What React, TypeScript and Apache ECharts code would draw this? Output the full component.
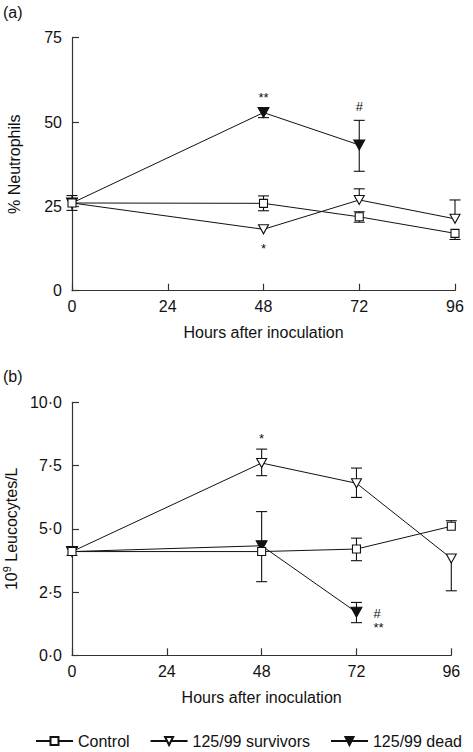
import React, { useEffect, useRef } from "react";
import * as echarts from "echarts";

const hours = [0, 48, 72, 96];
const hoursDead = [0, 48, 72];
const xTicks = [0, 24, 48, 72, 96];

// Panel (a): % Neutrophils
const neutControl = [26, 25.9, 21.9, 17];
const neutSurvivors = [26, 18.2, 26.9, 21.3];
const neutDead = [26, 52.8, 43.2];
// error bars [plus, minus]
const neutControlErr = [[2.2, 2.2], [2.2, 2.2], [1.5, 1.6], [0, 1.8]];
const neutSurvivorsErr = [[0, 0], [0, 0], [3.3, 0], [5.6, 0]];
const neutDeadErr = [[0, 0], [1.3, 1.5], [7.3, 7.8]];
const neutNotes = [
  { x: 48, y: 57.4, text: "**" },
  { x: 72, y: 54.6, text: "#" },
  { x: 48, y: 12.6, text: "*" },
];

// Panel (b): 10^9 Leucocytes/L
const leucControl = [4.1, 4.1, 4.2, 5.1];
const leucSurvivors = [4.1, 7.6, 6.8, 3.83];
const leucDead = [4.1, 4.33, 1.7];
const leucControlErr = [[0.15, 0.15], [0, 0], [0.43, 0.46], [0.22, 0]];
const leucSurvivorsErr = [[0, 0], [0.55, 0.5], [0.6, 0.56], [0, 1.28]];
const leucDeadErr = [[0, 0], [1.35, 1.42], [0.39, 0.41]];
const leucNotes = [
  { x: 48, y: 8.55, text: "*" },
  { x: 77.2, y: 1.65, text: "#" },
  { x: 77.6, y: 1.1, text: "**" },
];

const seriesNames = ["Control", "125/99 survivors", "125/99 dead"];

const FONT = "'Liberation Sans', Arial, Helvetica, sans-serif";
const BLACK = "#111";
const FS = 16;

const pairs = (xs: number[], ys: number[]) => xs.map((x, i) => [x, ys[i]]);
const errData = (xs: number[], ys: number[], e: number[][]) =>
  xs.map((x, i) => [x, ys[i], e[i][0], e[i][1]]);

function errorSeries(xs: number[], ys: number[], e: number[][], idx: number) {
  return {
    type: "custom",
    xAxisIndex: idx,
    yAxisIndex: idx,
    z: 1,
    silent: true,
    data: errData(xs, ys, e),
    encode: { x: 0, y: 1 },
    renderItem: (params: any, api: any) => {
      const x = api.value(0);
      const y = api.value(1);
      const up = api.value(2);
      const dn = api.value(3);
      const c = api.coord([x, y]);
      const w = 5.5;
      const style = { stroke: BLACK, lineWidth: 1.1, fill: null };
      const children: any[] = [];
      if (up > 0) {
        const t = api.coord([x, y + up]);
        children.push({ type: "line", shape: { x1: c[0], y1: c[1], x2: c[0], y2: t[1] }, style });
        children.push({ type: "line", shape: { x1: c[0] - w, y1: t[1], x2: c[0] + w, y2: t[1] }, style });
      }
      if (dn > 0) {
        const b = api.coord([x, y - dn]);
        children.push({ type: "line", shape: { x1: c[0], y1: c[1], x2: c[0], y2: b[1] }, style });
        children.push({ type: "line", shape: { x1: c[0] - w, y1: b[1], x2: c[0] + w, y2: b[1] }, style });
      }
      return { type: "group", children };
    },
  };
}

function noteSeries(notes: { x: number; y: number; text: string }[], idx: number, size: number) {
  return {
    type: "custom",
    xAxisIndex: idx,
    yAxisIndex: idx,
    z: 5,
    silent: true,
    data: notes.map((n) => [n.x, n.y]),
    encode: { x: 0, y: 1 },
    renderItem: (params: any, api: any) => {
      const c = api.coord([api.value(0), api.value(1)]);
      return {
        type: "text",
        x: c[0],
        y: c[1],
        style: {
          text: notes[params.dataIndex].text,
          fill: BLACK,
          font: `${size}px ${FONT}`,
          align: "center",
          verticalAlign: "middle",
        },
      };
    },
  };
}

function lineSeries(name: string, data: number[][], idx: number, kind: number) {
  const base: any = {
    name,
    type: "line",
    xAxisIndex: idx,
    yAxisIndex: idx,
    data,
    z: 3,
    lineStyle: { color: BLACK, width: 1 },
    emphasis: { disabled: true },
  };
  if (kind === 0) {
    base.symbol = "rect";
    base.symbolSize = 8;
    base.z = 4;
    base.itemStyle = { color: "#fff", borderColor: BLACK, borderWidth: 1.1 };
  } else if (kind === 1) {
    base.symbol = "triangle";
    base.symbolRotate = 180;
    base.symbolSize = [10, 9];
    base.itemStyle = { color: "#fff", borderColor: BLACK, borderWidth: 1.1 };
  } else {
    base.symbol = "triangle";
    base.symbolRotate = 180;
    base.symbolSize = [11, 10];
    base.z = 2;
    base.itemStyle = { color: BLACK, borderColor: BLACK, borderWidth: 1 };
  }
  return base;
}

const axisCommon = {
  axisLine: { lineStyle: { color: "#333", width: 1.2 } },
  axisTick: { inside: true, length: 7, lineStyle: { color: "#333", width: 1.2 } },
  splitLine: { show: false },
};

export default function App() {
  const ref = useRef<HTMLDivElement>(null);
  useEffect(() => {
    if (!ref.current) return;
    const chart = echarts.init(ref.current, null, { renderer: "svg" });
    const xAxis = (idx: number) => ({
      type: "value",
      gridIndex: idx,
      min: xTicks[0],
      max: xTicks[xTicks.length - 1],
      interval: 24,
      ...axisCommon,
      axisLabel: { color: BLACK, fontSize: FS, fontFamily: FONT, margin: 8 },
      name: "Hours after inoculation",
      nameLocation: "middle",
      nameGap: 34,
      nameTextStyle: { color: BLACK, fontSize: FS, fontFamily: FONT },
    });
    chart.setOption({
      animation: false,
      textStyle: { fontFamily: FONT },
      grid: [
        { left: 72, top: 37.7, width: 383, height: 253, containLabel: false, outerBoundsMode: "none" },
        { left: 72, top: 402.3, width: 379.3, height: 253, containLabel: false, outerBoundsMode: "none" },
      ],
      xAxis: [xAxis(0), xAxis(1)],
      yAxis: [
        {
          type: "value",
          gridIndex: 0,
          min: 0,
          max: 75,
          interval: 25,
          ...axisCommon,
          axisLabel: { color: BLACK, fontSize: FS, fontFamily: FONT, margin: 10 },
          name: "% Neutrophils",
          nameLocation: "middle",
          nameGap: 50,
          nameTextStyle: { color: BLACK, fontSize: FS, fontFamily: FONT },
        },
        {
          type: "value",
          gridIndex: 1,
          min: 0,
          max: 10,
          interval: 2.5,
          ...axisCommon,
          axisLabel: {
            color: BLACK,
            fontSize: FS,
            fontFamily: FONT,
            margin: 10,
            formatter: (v: number) => v.toFixed(1).replace(".", "·"),
          },
          name: "10{sup|9} Leucocytes/L",
          nameLocation: "middle",
          nameGap: 46,
          nameTextStyle: {
            color: BLACK,
            fontSize: FS,
            fontFamily: FONT,
            rich: {
              sup: { fontSize: 11, verticalAlign: "top", padding: [0, 0, 8, 0], color: BLACK, fontFamily: FONT },
            },
          },
        },
      ],
      legend: {
        left: 35,
        top: 733,
        padding: 0,
        itemWidth: 37,
        itemHeight: 10,
        itemGap: 20,
        data: seriesNames,
        textStyle: { color: BLACK, fontSize: FS, fontFamily: FONT },
        selectedMode: false,
      },
      graphic: [
        { type: "text", left: 3, top: 4, style: { text: "(a)", fill: BLACK, font: `${FS}px ${FONT}` } },
        { type: "text", left: 3, top: 368, style: { text: "(b)", fill: BLACK, font: `${FS}px ${FONT}` } },
      ],
      series: [
        errorSeries(hours, neutControl, neutControlErr, 0),
        errorSeries(hours, neutSurvivors, neutSurvivorsErr, 0),
        errorSeries(hoursDead, neutDead, neutDeadErr, 0),
        lineSeries(seriesNames[0], pairs(hours, neutControl), 0, 0),
        lineSeries(seriesNames[1], pairs(hours, neutSurvivors), 0, 1),
        lineSeries(seriesNames[2], pairs(hoursDead, neutDead), 0, 2),
        noteSeries(neutNotes, 0, 13),
        errorSeries(hours, leucControl, leucControlErr, 1),
        errorSeries(hours, leucSurvivors, leucSurvivorsErr, 1),
        errorSeries(hoursDead, leucDead, leucDeadErr, 1),
        lineSeries(seriesNames[0], pairs(hours, leucControl), 1, 0),
        lineSeries(seriesNames[1], pairs(hours, leucSurvivors), 1, 1),
        lineSeries(seriesNames[2], pairs(hoursDead, leucDead), 1, 2),
        noteSeries(leucNotes, 1, 13),
      ],
    });
    return () => chart.dispose();
  }, []);
  return (
    <div
      ref={ref}
      style={{ position: "absolute", left: 0, top: 0, width: 473, height: 752, background: "#fff" }}
    />
  );
}
